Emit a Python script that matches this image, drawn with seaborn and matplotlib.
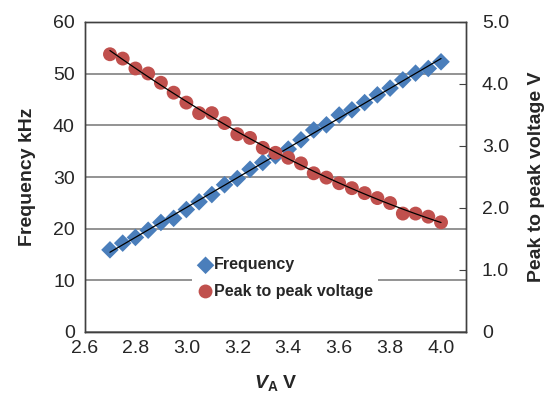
import matplotlib
matplotlib.use("Agg")
import matplotlib.pyplot as plt
import seaborn as sns
import pandas as pd
from matplotlib.ticker import FuncFormatter

# ---- data ----
va = [2.70, 2.75, 2.80, 2.85, 2.90, 2.95, 3.00, 3.05, 3.10, 3.15, 3.20, 3.25, 3.30, 3.35,
      3.40, 3.45, 3.50, 3.55, 3.60, 3.65, 3.70, 3.75, 3.80, 3.85, 3.90, 3.95, 4.00]
frequency = [15.9, 17.2, 18.3, 19.7, 21.2, 22.0, 23.7, 25.2, 26.6, 28.5, 29.7, 31.5, 32.8, 34.1,
             35.4, 37.2, 39.1, 40.1, 42.0, 43.0, 44.4, 45.9, 47.2, 48.8, 50.1, 51.0, 52.3]
vpp = [4.48, 4.41, 4.25, 4.17, 4.02, 3.86, 3.70, 3.53, 3.53, 3.37, 3.19, 3.13, 2.97, 2.89,
       2.81, 2.72, 2.56, 2.49, 2.40, 2.32, 2.24, 2.16, 2.08, 1.91, 1.91, 1.86, 1.77]
x_ticks = [2.6, 2.8, 3.0, 3.2, 3.4, 3.6, 3.8, 4.0]
left_ticks = [0, 10, 20, 30, 40, 50, 60]
right_ticks = [0, 1, 2, 3, 4, 5]

df = pd.DataFrame({"va": va, "freq": frequency, "vpp": vpp})

sns.set_style("white")
plt.rcParams["font.family"] = ["Liberation Sans", "DejaVu Sans"]
plt.rcParams["mathtext.fontset"] = "custom"
plt.rcParams["mathtext.it"] = "Liberation Sans:italic:bold"
plt.rcParams["mathtext.rm"] = "Liberation Sans:bold"
plt.rcParams["mathtext.bf"] = "Liberation Sans:bold"

blue = "#4a7ebb"
red = "#c0504d"
spine_c = "#404040"

fig = plt.figure(figsize=(5.47, 4.0), dpi=100)
ax = fig.add_axes([84.5 / 547, 1 - 332 / 400, 382 / 547, 310 / 400])
ax2 = ax.twinx()

sns.scatterplot(data=df, x="va", y="freq", ax=ax, marker="D", s=80, color=blue,
                edgecolor="none", label="Frequency", zorder=3, legend=False)
sns.regplot(data=df, x="va", y="freq", ax=ax, scatter=False, ci=None, truncate=True,
            line_kws={"color": "black", "lw": 0.9, "zorder": 4})
sns.scatterplot(data=df, x="va", y="vpp", ax=ax2, marker="o", s=100, color=red,
                edgecolor="none", label="Peak to peak voltage", zorder=3, legend=False)
sns.regplot(data=df, x="va", y="vpp", ax=ax2, scatter=False, ci=None, order=2, truncate=True,
            line_kws={"color": "black", "lw": 0.9, "zorder": 4})

ax.set_xlim(2.6, 4.1)
ax.set_ylim(0, 60)
ax2.set_ylim(0, 5)
ax.set_xticks(x_ticks)
ax.set_xticklabels([f"{v:.1f}" for v in x_ticks])
ax.set_yticks(left_ticks)
ax2.set_yticks(right_ticks)
ax2.yaxis.set_major_formatter(FuncFormatter(lambda v, p: "0" if v == 0 else f"{v:.1f}"))

ax.yaxis.grid(True, color="#808080", lw=1.2)
ax.set_axisbelow(True)
for a in (ax, ax2):
    for s in a.spines.values():
        s.set_color(spine_c)
        s.set_linewidth(1.0)

ax.tick_params(axis="x", direction="in", length=5, color=spine_c, labelsize=14, pad=6)
ax.tick_params(axis="y", length=0, labelsize=14, pad=7)
ax2.tick_params(axis="y", direction="in", length=5, color=spine_c, labelsize=14, pad=11)

ax.set_xlabel(r"$V_{\mathrm{A}}$ V", fontsize=14, fontweight="bold", labelpad=11)
ax.set_ylabel("Frequency kHz", fontsize=14, fontweight="bold", labelpad=12)
ax2.set_ylabel("Peak to peak voltage V", fontsize=14, fontweight="bold", labelpad=14)

h1, l1 = ax.get_legend_handles_labels()
h2, l2 = ax2.get_legend_handles_labels()
leg = ax2.legend(h1 + h2, l1 + l2, loc="center", bbox_to_anchor=(0.525, 0.174),
                 frameon=True, facecolor="white", edgecolor="none", framealpha=1,
                 prop={"weight": "bold", "size": 11.5}, handletextpad=0.0,
                 labelspacing=0.7, borderpad=0.3, handlelength=1.1, borderaxespad=0)

fig.savefig("out.png", dpi=100)
